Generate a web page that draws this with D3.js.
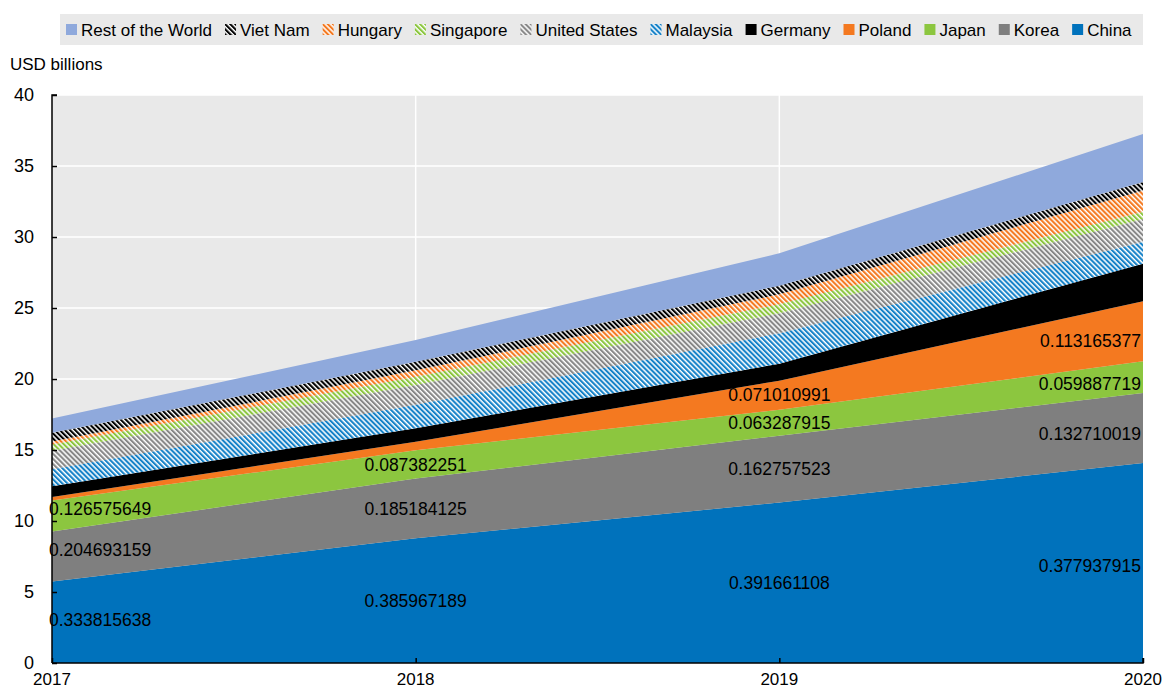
<!DOCTYPE html>
<html>
<head>
<meta charset="utf-8">
<script src="https://cdn.jsdelivr.net/npm/d3@7"></script>
<style>
  body { margin: 0; background: #fff; }
  svg text { font-family: "Liberation Sans", Arial, sans-serif; }
</style>
</head>
<body>
<svg id="chart"></svg>
<script>
// Years on the x axis
const years = [2017, 2018, 2019, 2020];

// Series values (USD billions)
const china     = [5.74, 8.78, 11.30, 14.08];
const korea     = [3.52, 4.21, 4.70, 4.94];
const japan     = [2.18, 1.99, 1.83, 2.23];
const poland    = [0.25, 0.60, 2.05, 4.22];
const germany   = [0.75, 0.95, 1.20, 2.65];
const malaysia  = [1.20, 1.65, 2.15, 1.55];
const unitedStates = [1.30, 1.40, 1.40, 1.60];
const singapore = [0.45, 0.58, 0.63, 0.50];
const hungary   = [0.20, 0.45, 0.70, 1.50];
const vietNam   = [0.62, 0.60, 0.61, 0.60];
const restWorld = [1.00, 1.54, 2.28, 3.38];

// Data labels (shares) shown in the chart
const labelChina  = ["0.333815638", "0.385967189", "0.391661108", "0.377937915"];
const labelKorea  = ["0.204693159", "0.185184125", "0.162757523", "0.132710019"];
const labelJapan  = ["0.126575649", "0.087382251", "0.063287915", "0.059887719"];
const labelPoland = [null, null, "0.071010991", "0.113165377"];

const yTicks = [0, 5, 10, 15, 20, 25, 30, 35, 40];

// Series definitions, bottom to top
const series = [
    { key: "China", values: china, color: "#0072BC", hatch: false, labels: labelChina },
    { key: "Korea", values: korea, color: "#7F7F7F", hatch: false, labels: labelKorea },
    { key: "Japan", values: japan, color: "#8CC63F", hatch: false, labels: labelJapan },
    { key: "Poland", values: poland, color: "#F47920", hatch: false, labels: labelPoland },
    { key: "Germany", values: germany, color: "#000000", hatch: false },
    { key: "Malaysia", values: malaysia, color: "#1682C8", hatch: true },
    { key: "United States", values: unitedStates, color: "#878787", hatch: true },
    { key: "Singapore", values: singapore, color: "#8CC63F", hatch: true },
    { key: "Hungary", values: hungary, color: "#F47920", hatch: true },
    { key: "Viet Nam", values: vietNam, color: "#000000", hatch: true },
    { key: "Rest of the World", values: restWorld, color: "#8FA9DC", hatch: false }
];

const width = 1163, height = 691;
const margin = { left: 52, right: 20, top: 95, bottom: 28 };

const svg = d3.select("#chart")
    .attr("width", width)
    .attr("height", height);

// Hatch patterns
const defs = svg.append("defs");
series.forEach((s, i) => {
    if (!s.hatch) return;
    const p = defs.append("pattern")
        .attr("id", "hatch" + i)
        .attr("patternUnits", "userSpaceOnUse")
        .attr("width", 3.6)
        .attr("height", 10)
        .attr("patternTransform", "rotate(-45)");
    p.append("rect").attr("width", 3.6).attr("height", 10).attr("fill", "#fff");
    p.append("rect").attr("width", 2.1).attr("height", 10).attr("fill", s.color);
});
const fillOf = (s, i) => s.hatch ? `url(#hatch${i})` : s.color;

// Build table for stack
const table = years.map((yr, j) => {
    const row = { year: yr };
    series.forEach(s => row[s.key] = s.values[j]);
    return row;
});
const stacked = d3.stack().keys(series.map(s => s.key))(table);

const x = d3.scaleLinear()
    .domain([2017, 2020])
    .range([margin.left, width - margin.right]);
const y = d3.scaleLinear()
    .domain([0, 40])
    .range([height - margin.bottom, margin.top]);

// Plot background
svg.append("rect")
    .attr("x", x(2017))
    .attr("y", y(40))
    .attr("width", x(2020) - x(2017))
    .attr("height", y(0) - y(40))
    .attr("fill", "#E9E9E9");

// Gridlines
svg.append("g")
    .selectAll("line")
    .data(yTicks.filter(d => d > 0))
    .join("line")
    .attr("x1", x(2017))
    .attr("x2", x(2020))
    .attr("y1", d => y(d))
    .attr("y2", d => y(d))
    .attr("stroke", "#fff")
    .attr("stroke-width", 1.5);
svg.append("g")
    .selectAll("line")
    .data([2018, 2019])
    .join("line")
    .attr("x1", d => x(d))
    .attr("x2", d => x(d))
    .attr("y1", y(40))
    .attr("y2", y(0))
    .attr("stroke", "#fff")
    .attr("stroke-width", 1.5);

// Areas
const area = d3.area()
    .x(d => x(d.data.year))
    .y0(d => y(d[0]))
    .y1(d => y(d[1]));

svg.append("g")
    .selectAll("path")
    .data(stacked)
    .join("path")
    .attr("d", area)
    .attr("fill", (d, i) => fillOf(series[i], i));

// Axes
const yAxis = svg.append("g")
    .attr("transform", `translate(${x(2017)},0)`)
    .call(d3.axisRight(y).tickValues(yTicks).tickSize(5).tickFormat(""));
yAxis.select(".domain").attr("stroke", "#000").attr("stroke-width", 1.5).attr("d", `M5,${y(40)}H0V${y(0)}`);
yAxis.selectAll(".tick line").attr("stroke", "#000").attr("stroke-width", 1.5);

svg.append("g")
    .selectAll("text")
    .data(yTicks)
    .join("text")
    .attr("x", 34)
    .attr("y", d => y(d))
    .attr("dy", "0.35em")
    .attr("text-anchor", "end")
    .attr("font-size", 18)
    .text(d => d);

const xAxis = svg.append("g")
    .attr("transform", `translate(0,${y(0)})`)
    .call(d3.axisTop(x).tickValues(years).tickSize(5).tickFormat(""));
xAxis.select(".domain").attr("stroke", "#000").attr("stroke-width", 1.5).attr("d", `M${x(2017)},0H${x(2020)}V-5`);
xAxis.selectAll(".tick line").attr("stroke", "#000").attr("stroke-width", 1.5);

svg.append("g")
    .selectAll("text")
    .data(years)
    .join("text")
    .attr("x", d => x(d))
    .attr("y", y(0) + 22)
    .attr("text-anchor", "middle")
    .attr("font-size", 17)
    .text(d => d);

// Axis title
svg.append("text")
    .attr("x", 10)
    .attr("y", 70)
    .attr("font-size", 17)
    .text("USD billions");

// Value of a stacked edge at an arbitrary x position (linear between years)
function edgeAt(layer, px, k) {
    const yr = x.invert(px);
    const j = Math.min(years.length - 2, Math.max(0, Math.floor(yr - years[0])));
    const t = (yr - years[j]) / (years[j + 1] - years[j]);
    return layer[j][k] + (layer[j + 1][k] - layer[j][k]) * t;
}

// Data labels, kept inside the plot and placed at the middle of their band
const labelLayer = svg.append("g");
stacked.forEach((layer, i) => {
    const s = series[i];
    if (!s.labels) return;
    layer.forEach((d, j) => {
        const txt = s.labels[j];
        if (!txt) return;
        const t = labelLayer.append("text")
            .attr("text-anchor", "middle")
            .attr("font-size", 17.5)
            .attr("fill", "#000")
            .text(txt);
        const w = t.node().getComputedTextLength();
        let cx = x(d.data.year);
        cx = Math.max(x(2017) - 3 + w / 2, Math.min(x(2020) - 2 - w / 2, cx));
        const mid = (edgeAt(layer, cx, 0) + edgeAt(layer, cx, 1)) / 2;
        t.attr("x", cx).attr("y", y(mid)).attr("dy", "0.35em");
    });
});

// Legend
const legendOrder = series.map((s, i) => ({ s, i })).reverse();
svg.append("rect")
    .attr("x", 60)
    .attr("y", 14)
    .attr("width", x(2020) - 60)
    .attr("height", 31)
    .attr("fill", "#E9E9E9");

const legend = svg.append("g");
let lx = 66;
legendOrder.forEach(({ s, i }) => {
    const g = legend.append("g").attr("transform", `translate(${lx},0)`);
    g.append("rect")
        .attr("x", 0)
        .attr("y", 24)
        .attr("width", 11)
        .attr("height", 11)
        .attr("fill", fillOf(s, i));
    const t = g.append("text")
        .attr("x", 15)
        .attr("y", 35.5)
        .attr("font-size", 17)
        .text(s.key);
    lx += 15 + t.node().getComputedTextLength() + 13;
});
</script>
</body>
</html>
